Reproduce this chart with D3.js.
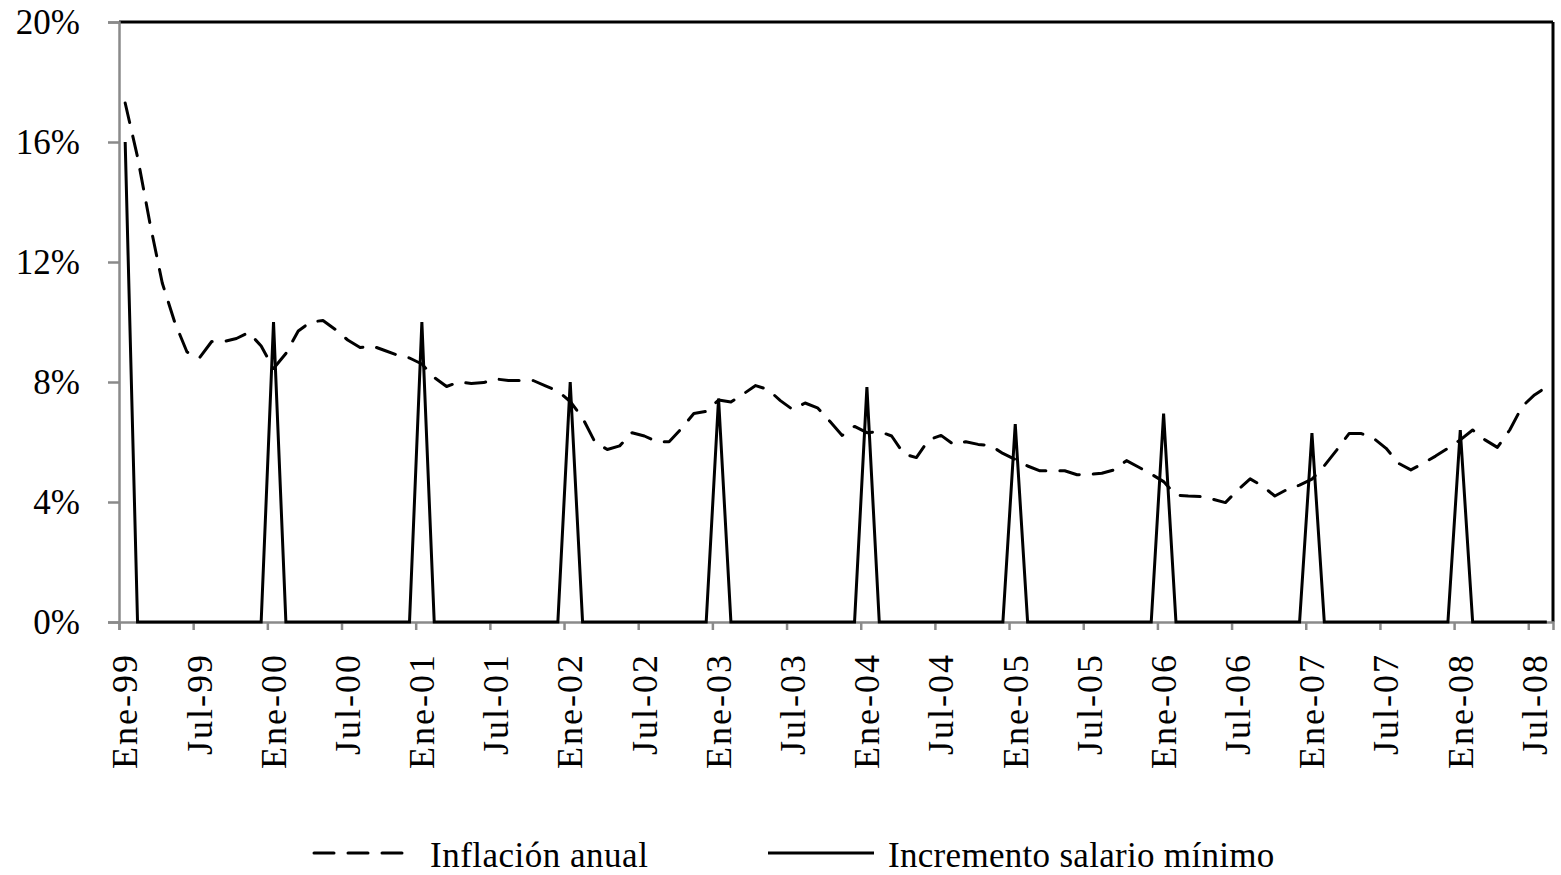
<!DOCTYPE html>
<html>
<head>
<meta charset="utf-8">
<script src="https://cdn.jsdelivr.net/npm/d3@7"></script>
<style>
  html, body { margin: 0; padding: 0; background: #fff; }
  svg { display: block; }
  text { font-family: "Liberation Serif", "Times New Roman", serif; fill: #000; }
</style>
</head>
<body>
<svg id="chart" width="1561" height="875"></svg>
<script>
// ---------- DATA ----------
const monthAbbr = ["Ene","Feb","Mar","Abr","May","Jun","Jul","Ago","Sep","Oct","Nov","Dic"];
const years = ["99","00","01","02","03","04","05","06","07","08"];
const nMonths = 116; // Ene-99 .. Ago-08
const categories = [];
for (let i = 0; i < nMonths; i++) categories.push(monthAbbr[i % 12] + "-" + years[Math.floor(i / 12)]);

const tickLabels = ["Ene-99","Jul-99","Ene-00","Jul-00","Ene-01","Jul-01","Ene-02","Jul-02",
  "Ene-03","Jul-03","Ene-04","Jul-04","Ene-05","Jul-05","Ene-06","Jul-06","Ene-07","Jul-07",
  "Ene-08","Jul-08"];

const yTicks = [0, 4, 8, 12, 16, 20];

// Inflación anual (%), monthly
const inflacion = [
  17.3, 15.5, 13.3, 11.3, 10.0, 9.0, 8.8, 9.35, 9.35, 9.45, 9.65, 9.2,
  8.45, 8.95, 9.7, 10.0, 10.05, 9.75, 9.4, 9.15, 9.2, 9.05, 8.9, 8.8,
  8.6, 8.15, 7.85, 8.0, 7.95, 7.98, 8.1, 8.05, 8.05, 8.05, 7.87, 7.7,
  7.35, 6.8, 6.0, 5.75, 5.87, 6.31, 6.2, 6.01, 6.01, 6.45, 6.95, 7.02,
  7.4, 7.33, 7.6, 7.88, 7.75, 7.38, 7.08, 7.3, 7.14, 6.69, 6.22, 6.52,
  6.31, 6.35, 6.2, 5.6, 5.48, 6.07, 6.22, 5.92, 6.01, 5.92, 5.88, 5.62,
  5.42, 5.2, 5.04, 5.04, 5.04, 4.91, 4.92, 4.96, 5.07, 5.38, 5.16, 4.93,
  4.68, 4.23, 4.2, 4.18, 4.09, 3.98, 4.4, 4.77, 4.53, 4.2, 4.42, 4.56,
  4.76, 5.21, 5.73, 6.28, 6.28, 6.12, 5.79, 5.29, 5.07, 5.29, 5.53, 5.79,
  6.07, 6.4, 6.07, 5.82, 6.4, 7.18, 7.57, 7.84
];

// Incremento salario mínimo (%), monthly (only in January)
const salario = [
  16.0, 0, 0, 0, 0, 0, 0, 0, 0, 0, 0, 0,
  10.0, 0, 0, 0, 0, 0, 0, 0, 0, 0, 0, 0,
  10.0, 0, 0, 0, 0, 0, 0, 0, 0, 0, 0, 0,
  8.0, 0, 0, 0, 0, 0, 0, 0, 0, 0, 0, 0,
  7.45, 0, 0, 0, 0, 0, 0, 0, 0, 0, 0, 0,
  7.83, 0, 0, 0, 0, 0, 0, 0, 0, 0, 0, 0,
  6.6, 0, 0, 0, 0, 0, 0, 0, 0, 0, 0, 0,
  6.95, 0, 0, 0, 0, 0, 0, 0, 0, 0, 0, 0,
  6.3, 0, 0, 0, 0, 0, 0, 0, 0, 0, 0, 0,
  6.4, 0, 0, 0, 0, 0, 0, 0
];

const seriesNames = ["Inflación anual", "Incremento salario mínimo"];

// ---------- LAYOUT ----------
const svg = d3.select("#chart");
const L = 119, R = 1553, T = 22, B = 622;
const axisGray = "#8a8a8a";

const x = d3.scaleBand().domain(categories).range([L, R]).paddingInner(0).paddingOuter(0);
const xEdge = d3.scaleLinear().domain([0, nMonths]).range([L, R]);
const y = d3.scaleLinear().domain([0, 20]).range([B, T]);
const cx = c => x(c) + x.bandwidth() / 2;

// plot frame (top/right)
svg.append("line").attr("x1", L).attr("x2", R).attr("y1", T).attr("y2", T)
  .attr("stroke", "#000").attr("stroke-width", 3);
svg.append("line").attr("x1", R).attr("x2", R).attr("y1", T).attr("y2", B)
  .attr("stroke", "#000").attr("stroke-width", 3);

// Y axis
const yAxis = d3.axisLeft(y).tickValues(yTicks).tickSize(11).tickPadding(28)
  .tickFormat(d => d + "%");
const gy = svg.append("g").attr("transform", `translate(${L},0)`).call(yAxis);
gy.select(".domain").attr("stroke", axisGray).attr("stroke-width", 2.5);
gy.selectAll(".tick line").attr("stroke", axisGray).attr("stroke-width", 2.5);
gy.selectAll(".tick text")
  .style("font-family", '"Liberation Serif", "Times New Roman", serif')
  .style("font-size", "35px").attr("fill", "#000");

// X axis (ticks at month boundaries every 6 months)
const tickIdx = tickLabels.map(t => categories.indexOf(t));
const xAxis = d3.axisBottom(xEdge).tickValues(tickIdx).tickSize(8).tickFormat("");
const gx = svg.append("g").attr("transform", `translate(0,${B})`).call(xAxis);
gx.select(".domain").attr("stroke", axisGray).attr("stroke-width", 2.5);
gx.selectAll(".tick line").attr("stroke", axisGray).attr("stroke-width", 2.5);

// X labels at category centers, rotated
svg.append("g").selectAll("text").data(tickLabels).join("text")
  .attr("transform", d => `translate(${cx(d)},653) rotate(-90)`)
  .attr("text-anchor", "end")
  .attr("dy", "0.34em")
  .style("font-size", "36px")
  .style("letter-spacing", "2px")
  .text(d => d);

// Lines
const lineGen = d3.line().x((d, i) => cx(categories[i])).y(d => y(d));

svg.append("path").datum(salario)
  .attr("d", lineGen).attr("fill", "none")
  .attr("stroke", "#000").attr("stroke-width", 3).attr("stroke-linejoin", "miter");

svg.append("path").datum(inflacion)
  .attr("d", lineGen).attr("fill", "none")
  .attr("stroke", "#000").attr("stroke-width", 3)
  .attr("stroke-dasharray", "20,14").attr("stroke-linecap", "round")
  .attr("stroke-linejoin", "round");

// Legend
const lg = svg.append("g");
lg.append("line").attr("x1", 314).attr("x2", 403).attr("y1", 853).attr("y2", 853)
  .attr("stroke", "#000").attr("stroke-width", 3)
  .attr("stroke-dasharray", "20,14").attr("stroke-linecap", "round");
lg.append("text").attr("x", 430).attr("y", 867).style("font-size", "35px")
  .style("letter-spacing", "0.5px").text(seriesNames[0]);
lg.append("line").attr("x1", 768).attr("x2", 874).attr("y1", 853).attr("y2", 853)
  .attr("stroke", "#000").attr("stroke-width", 3);
lg.append("text").attr("x", 888).attr("y", 867).style("font-size", "35px")
  .style("letter-spacing", "0.3px").text(seriesNames[1]);
</script>
</body>
</html>
